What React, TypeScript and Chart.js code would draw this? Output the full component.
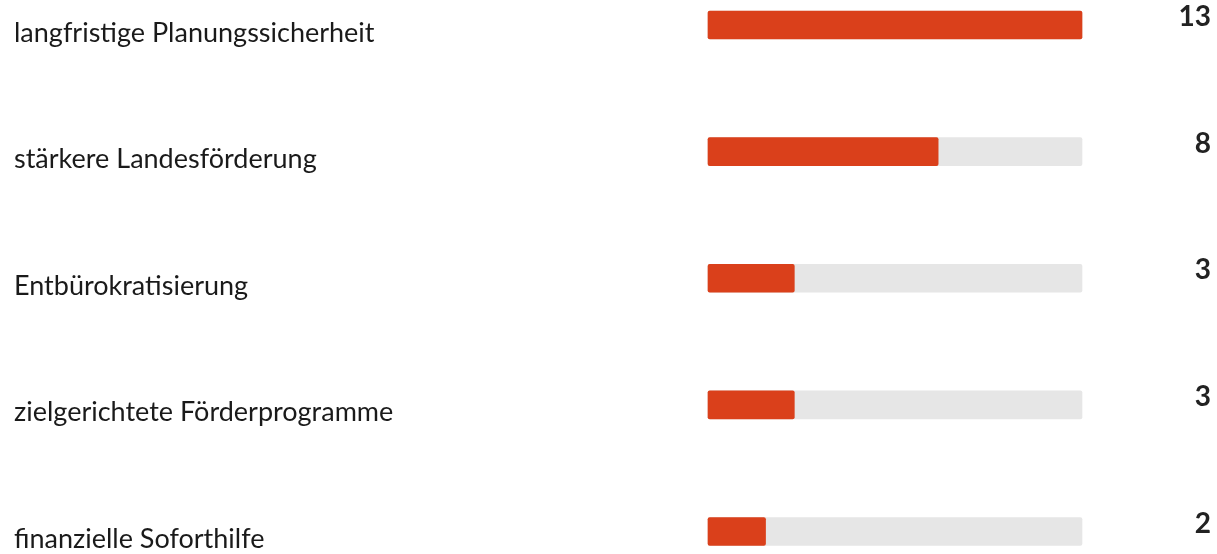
import React, { useEffect, useRef } from "react";
import { Chart, registerables } from "chart.js";

Chart.register(...registerables);

const categories = [
  "langfristige Planungssicherheit",
  "stärkere Landesförderung",
  "Entbürokratisierung",
  "zielgerichtete Förderprogramme",
  "finanzielle Soforthilfe",
];
const values = [13, 8, 3, 3, 2];
const trackMax = 13;
const trackValues = categories.map(() => trackMax);

const RED = "#DA401B";
const TRACK = "#E6E6E6";
const FONT = "Lato";

const labelPlugin = {
  id: "rowLabels",
  afterDatasetsDraw(chart: any) {
    const { ctx, scales, chartArea } = chart;
    const yScale = scales.y;
    ctx.save();
    categories.forEach((cat, i) => {
      const y = yScale.getPixelForValue(i);
      ctx.font = `400 27px "${FONT}"`;
      ctx.fillStyle = "#1a1a1a";
      ctx.textAlign = "left";
      ctx.textBaseline = "alphabetic";
      ctx.fillText(cat, 14, y + 16.5);
      ctx.font = `700 28px "${FONT}"`;
      ctx.fillStyle = "#222222";
      ctx.textAlign = "right";
      ctx.fillText(String(values[i]), chartArea.right + 129, y + 1);
    });
    ctx.restore();
  },
};

export default function App() {
  const ref = useRef<HTMLCanvasElement>(null);
  useEffect(() => {
    if (!ref.current) return;
    const chart = new Chart(ref.current, {
      type: "bar",
      data: {
        labels: categories,
        datasets: [
          {
            data: values,
            backgroundColor: RED,
            barThickness: 28,
            borderRadius: 2,
            borderSkipped: false,
            grouped: false,
            clip: false,
            order: 0,
          } as any,
          {
            data: trackValues,
            backgroundColor: TRACK,
            barThickness: 28,
            borderRadius: 2,
            borderSkipped: false,
            grouped: false,
            clip: false,
            order: 1,
          } as any,
        ],
      },
      options: {
        indexAxis: "y",
        animation: false,
        responsive: true,
        maintainAspectRatio: false,
        layout: { padding: { left: 708, right: 135, top: 25, bottom: 22.5 } },
        plugins: { legend: { display: false }, tooltip: { enabled: false } },
        scales: {
          x: { display: false, min: 0, max: trackMax },
          y: { display: false, offset: false, grid: { display: false } },
        },
      },
      plugins: [labelPlugin],
    });
    return () => chart.destroy();
  }, []);
  return (
    <div style={{ position: "fixed", left: 0, top: 0, width: 1217, height: 554, background: "#fff" }}>
      <canvas ref={ref} />
    </div>
  );
}
